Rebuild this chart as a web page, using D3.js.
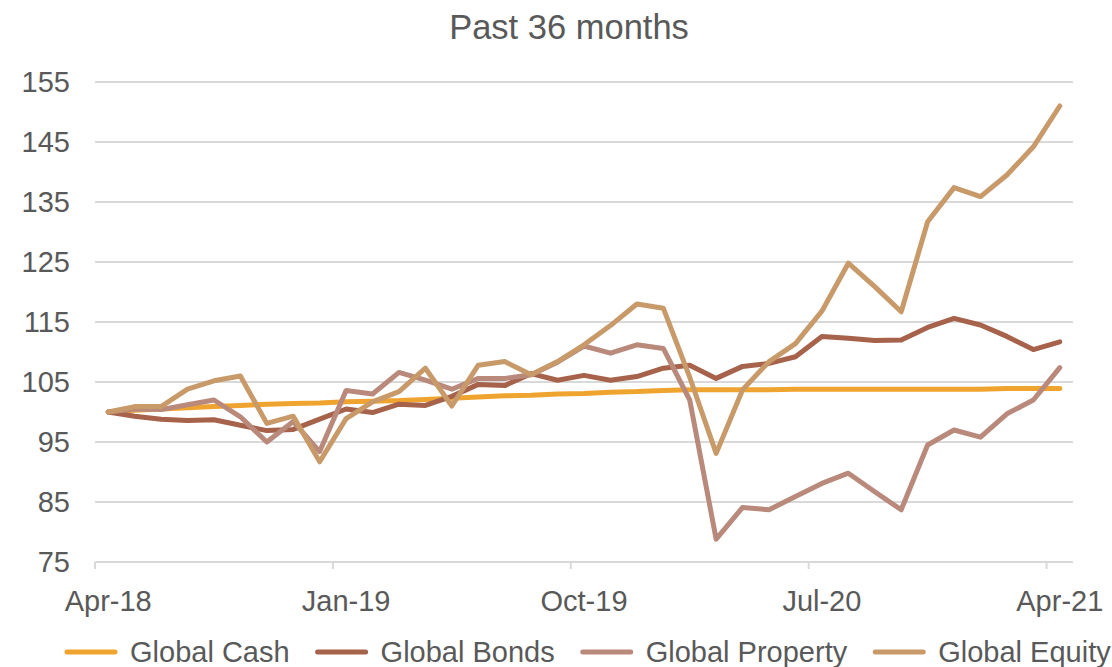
<!DOCTYPE html>
<html>
<head>
<meta charset="utf-8">
<script src="https://cdn.jsdelivr.net/npm/d3@7"></script>
<style>
    body { margin: 0; background: #fff; }
    svg text { font-family: "Liberation Sans", Arial, sans-serif; fill: #595959; }
</style>
</head>
<body>
<div id="chart"></div>
<script>
// months Apr-18 .. Apr-21 (37 points)
const months = ["Apr-18","May-18","Jun-18","Jul-18","Aug-18","Sep-18","Oct-18","Nov-18","Dec-18",
    "Jan-19","Feb-19","Mar-19","Apr-19","May-19","Jun-19","Jul-19","Aug-19","Sep-19",
    "Oct-19","Nov-19","Dec-19","Jan-20","Feb-20","Mar-20","Apr-20","May-20","Jun-20",
    "Jul-20","Aug-20","Sep-20","Oct-20","Nov-20","Dec-20","Jan-21","Feb-21","Mar-21","Apr-21"];
const tickLabels = ["Apr-18", "Jan-19", "Oct-19", "Jul-20", "Apr-21"];
const yTicks = [75, 85, 95, 105, 115, 125, 135, 145, 155];

const cash = [100, 100.3, 100.5, 100.7, 100.9, 101.1, 101.3, 101.4, 101.5,
    101.7, 101.8, 101.9, 102.1, 102.3, 102.5, 102.7, 102.8, 103.0,
    103.1, 103.3, 103.4, 103.6, 103.7, 103.7, 103.7, 103.7, 103.8,
    103.8, 103.8, 103.8, 103.8, 103.8, 103.8, 103.8, 103.9, 103.9, 103.9];
const bonds = [100, 99.3, 98.8, 98.6, 98.7, 97.8, 96.9, 97.1, 98.8,
    100.5, 99.9, 101.3, 101.1, 102.6, 104.6, 104.4, 106.4, 105.3,
    106.1, 105.3, 105.9, 107.3, 107.8, 105.6, 107.6, 108.1, 109.2,
    112.6, 112.3, 111.9, 112.0, 114.1, 115.6, 114.5, 112.6, 110.4, 111.7];
const property = [100, 100.5, 100.4, 101.2, 102.0, 99.2, 95.0, 98.4, 93.4,
    103.6, 103.0, 106.6, 105.3, 103.8, 105.6, 105.6, 106.2, 108.3,
    111.0, 109.8, 111.2, 110.6, 102.0, 78.8, 84.1, 83.7, 85.9,
    88.1, 89.8, 86.7, 83.7, 94.5, 97.0, 95.8, 99.7, 102.0, 107.4];
const equity = [100, 100.9, 100.9, 103.8, 105.2, 106.0, 98.1, 99.3, 91.7,
    98.9, 101.7, 103.4, 107.3, 101.0, 107.8, 108.4, 106.2, 108.4,
    111.2, 114.4, 118.0, 117.3, 105.8, 93.1, 103.7, 108.4, 111.4,
    116.8, 124.8, 120.9, 116.7, 131.7, 137.4, 135.9, 139.5, 144.2, 151.0];

const seriesNames = ["Global Cash", "Global Bonds", "Global Property", "Global Equity"];
const seriesValues = [cash, bonds, property, equity];
const colors = ["#F0A430", "#A6624A", "#B98A7C", "#C99A69"];

const width = 1112, height = 667;
const margin = { top: 82, left: 95, right: 39, bottom: 105 };

const svg = d3.select("#chart").append("svg")
    .attr("width", width)
    .attr("height", height);

// category axis: points sit in the middle of each month band
const xScale = d3.scaleBand()
    .domain(months)
    .range([margin.left, width - margin.right])
    .paddingInner(0).paddingOuter(0);

const yScale = d3.scaleLinear()
    .domain([75, 155])
    .range([height - margin.bottom, margin.top]);

// gridlines
svg.append("g")
    .selectAll("line")
    .data(yTicks.filter(d => d > 75))
    .join("line")
    .attr("x1", margin.left)
    .attr("x2", width - margin.right)
    .attr("y1", d => yScale(d))
    .attr("y2", d => yScale(d))
    .attr("stroke", "#D9D9D9")
    .attr("stroke-width", 2);

// y axis labels
const yAxis = svg.append("g")
    .attr("transform", `translate(${margin.left},0)`)
    .call(d3.axisLeft(yScale).tickValues(yTicks).tickSize(0).tickPadding(25));
yAxis.select(".domain").remove();
yAxis.selectAll("text")
    .attr("font-size", 29)
    .attr("font-family", "Liberation Sans, Arial, sans-serif")
    .attr("fill", "#595959");

// x axis: tick marks on month boundaries, labels centred on the month
const xAxisG = svg.append("g")
    .attr("transform", `translate(0,${height - margin.bottom})`);
xAxisG.append("line")
    .attr("x1", margin.left)
    .attr("x2", width - margin.right)
    .attr("stroke", "#D9D9D9")
    .attr("stroke-width", 2);
const xTicks = xAxisG.selectAll(".xtick")
    .data(tickLabels)
    .join("g")
    .attr("class", "xtick")
    .attr("transform", d => `translate(${xScale(d)},0)`);
xTicks.append("line")
    .attr("y1", 0).attr("y2", 7)
    .attr("stroke", "#D9D9D9")
    .attr("stroke-width", 2);
xTicks.append("text")
    .attr("x", xScale.bandwidth() / 2)
    .attr("y", 49)
    .attr("text-anchor", "middle")
    .attr("font-size", 29)
    .text(d => d);

// lines
const line = d3.line()
    .x((d, i) => xScale(months[i]) + xScale.bandwidth() / 2)
    .y(d => yScale(d));

svg.append("g")
    .selectAll("path")
    .data(seriesValues)
    .join("path")
    .attr("d", d => line(d))
    .attr("fill", "none")
    .attr("stroke", (d, i) => colors[i])
    .attr("stroke-width", 5)
    .attr("stroke-linejoin", "round")
    .attr("stroke-linecap", "round");

// title
svg.append("text")
    .attr("x", 569)
    .attr("y", 39)
    .attr("text-anchor", "middle")
    .attr("font-size", 34.5)
    .text("Past 36 months");

// legend, laid out left to right
const legend = svg.append("g").attr("transform", `translate(0,${height - 5})`);
let lx = 67;
seriesNames.forEach((name, i) => {
    legend.append("line")
        .attr("x1", lx).attr("x2", lx + 48)
        .attr("y1", -10).attr("y2", -10)
        .attr("stroke", colors[i])
        .attr("stroke-width", 5)
        .attr("stroke-linecap", "round");
    const t = legend.append("text")
        .attr("x", lx + 63)
        .attr("y", 0)
        .attr("font-size", 29)
        .text(name);
    lx += 63 + t.node().getComputedTextLength() + 28;
});
</script>
</body>
</html>
